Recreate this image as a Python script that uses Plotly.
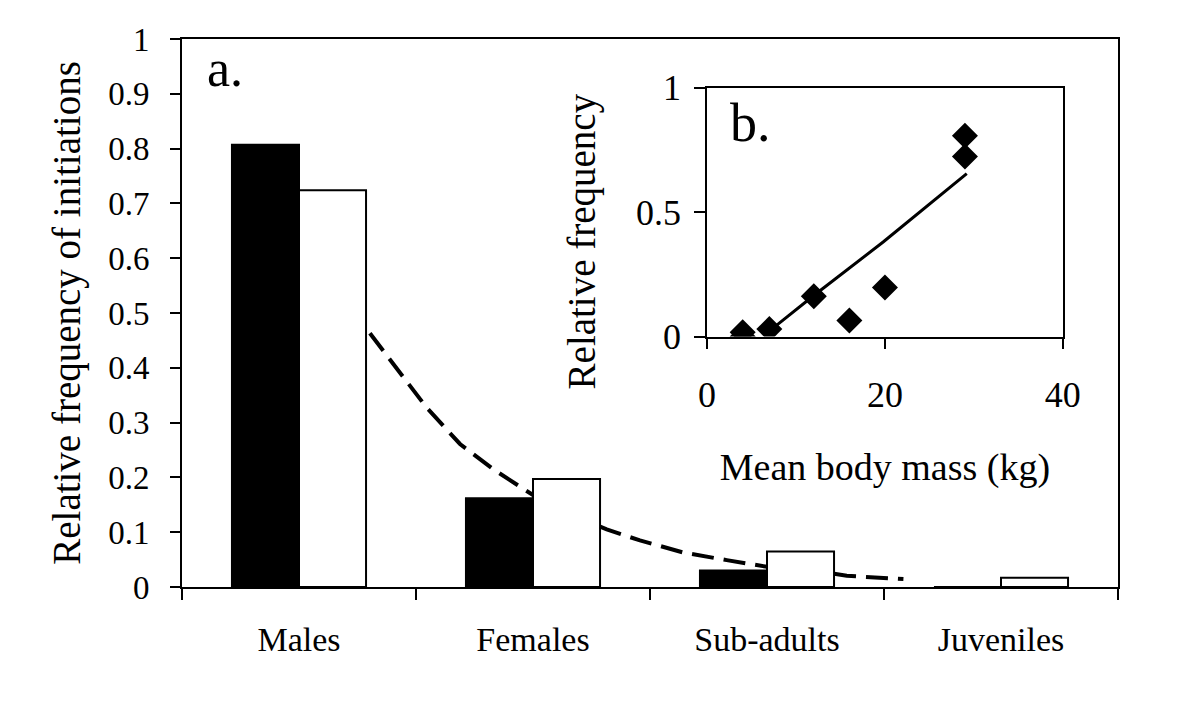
import plotly.graph_objects as go

# ---- data (panel a) ----
categories = ["Males", "Females", "Sub-adults", "Juveniles"]
cat_pos = [0, 1, 2, 3]
black_vals = [0.807, 0.162, 0.030, 0.0]
white_vals = [0.724, 0.197, 0.065, 0.017]

# dashed fitted curve (category-axis units);
# None marks the stretches hidden behind the white bars
curve_x = [0.303, 0.403, 0.546, 0.688, 0.830, 0.959, 1.0, None,
           1.287, 1.315, 1.457, 1.642, 1.828, 1.984, 2.0, None,
           2.287, 2.341, 2.583]
curve_y = [0.463, 0.406, 0.327, 0.261, 0.215, 0.179, 0.168, None,
           0.110, 0.105, 0.085, 0.063, 0.049, 0.038, 0.037, None,
           0.024, 0.0205, 0.0145]

# ---- data (panel b, inset) ----
mass_kg = [4, 4, 7, 12, 16, 20, 29, 29]
rel_freq = [0.0, 0.017, 0.030, 0.162, 0.065, 0.197, 0.724, 0.807]
fit_x = [7.8, 12, 19.8, 29.2]
fit_y = [0.045, 0.165, 0.38, 0.655]

main_ticks = [0, 0.1, 0.2, 0.3, 0.4, 0.5, 0.6, 0.7, 0.8, 0.9, 1]
inset_xticks = [0, 20, 40]
inset_yticks = [0, 0.5, 1]

FONT = "Liberation Serif, Times New Roman, serif"

fig = go.Figure()

fig.add_trace(go.Scatter(
    x=curve_x, y=curve_y, mode="lines", connectgaps=False,
    line=dict(color="black", width=4, dash="22px,10px"),
    xaxis="x", yaxis="y", hoverinfo="skip"))

fig.add_trace(go.Bar(
    x=cat_pos, y=black_vals, marker=dict(color="black", line=dict(color="black", width=2)),
    xaxis="x", yaxis="y", offsetgroup="a"))
fig.add_trace(go.Bar(
    x=cat_pos, y=white_vals, marker=dict(color="white", line=dict(color="black", width=2)),
    xaxis="x", yaxis="y", offsetgroup="b"))

fig.add_trace(go.Scatter(
    x=fit_x, y=fit_y, mode="lines", line=dict(color="black", width=3),
    xaxis="x2", yaxis="y2", hoverinfo="skip"))
fig.add_trace(go.Scatter(
    x=mass_kg, y=rel_freq, mode="markers",
    marker=dict(symbol="diamond", size=20, color="black"),
    xaxis="x2", yaxis="y2"))

axis_common = dict(showgrid=False, zeroline=False, showline=True, linecolor="black",
                   linewidth=2, mirror=True, tickcolor="black", tickwidth=2)

fig.update_layout(
    width=1200, height=714,
    margin=dict(l=174, r=90, t=28, b=135),
    paper_bgcolor="white", plot_bgcolor="white",
    showlegend=False, barmode="group", bargap=0.427, bargroupgap=0,
    font=dict(family=FONT, color="black", size=33),
    xaxis=dict(domain=[0, 1], range=[-0.5, 3.5], tickvals=cat_pos, ticktext=categories,
               ticks="", ticklabelstandoff=21, tickfont=dict(size=34),
               minor=dict(tickvals=[-0.5, 0.5, 1.5, 2.5, 3.5], ticks="outside",
                          ticklen=11, tickwidth=2, tickcolor="black"),
               **axis_common),
    yaxis=dict(domain=[0, 1], range=[0, 1], tickvals=main_ticks, ticks="outside",
               ticklen=10, ticklabelstandoff=14, tickfont=dict(size=33),
               title=dict(text="Relative frequency of initiations", font=dict(size=39), standoff=16),
               **axis_common),
    xaxis2=dict(domain=[0.561, 0.941], range=[0, 40], tickvals=inset_xticks, anchor="y2",
                ticks="outside", ticklen=10, ticklabelstandoff=15, tickfont=dict(size=36),
                title=dict(text="Mean body mass (kg)", font=dict(size=38), standoff=40),
                **axis_common),
    yaxis2=dict(domain=[0.457, 0.911], range=[0, 1], tickvals=inset_yticks, anchor="x2",
                ticks="outside", ticklen=11, ticklabelstandoff=6, tickfont=dict(size=36),
                **axis_common),
    annotations=[
        dict(text="a.", xref="x", yref="y", x=-0.40, y=0.946, xanchor="left", yanchor="middle",
             showarrow=False, font=dict(size=52)),
        dict(text="b.", xref="x2", yref="y2", x=2.3, y=0.86, xanchor="left", yanchor="middle",
             showarrow=False, font=dict(size=54)),
        dict(text="Relative frequency", xref="paper", yref="paper", x=0.427, y=0.630,
             xanchor="center", yanchor="middle", textangle=-90, showarrow=False,
             font=dict(size=39)),
    ],
)

fig.write_html("out.html")
